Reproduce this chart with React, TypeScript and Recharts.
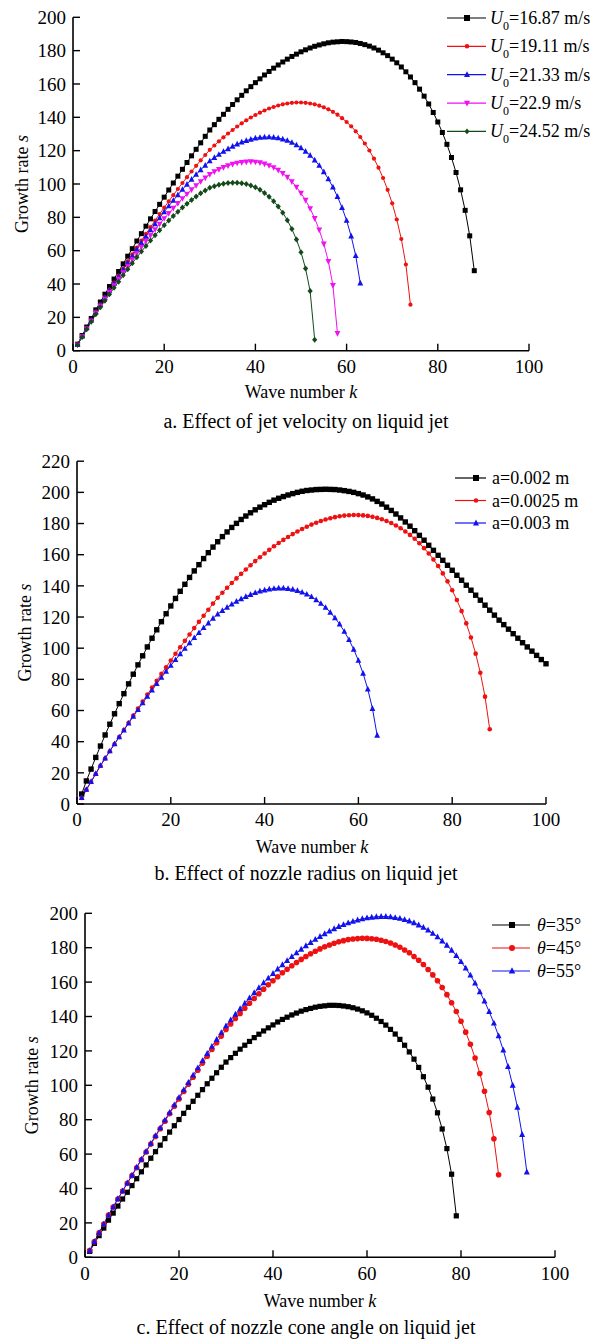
import React from 'react';
import { LineChart, Line, XAxis, YAxis, Legend } from 'recharts';

const FONT = '"Liberation Serif", "Times New Roman", Times, serif';
const PAGE_W = 606;
const Y_W = 60;
const X_H = 30;

// ---------- axis ticks ----------
const kTicks = [0, 20, 40, 60, 80, 100];
const sTicks200 = [0, 20, 40, 60, 80, 100, 120, 140, 160, 180, 200];
const sTicks220 = [0, 20, 40, 60, 80, 100, 120, 140, 160, 180, 200, 220];

// ---------- growth rate s at wave numbers k = 1, 2, 3, ... ----------
// a. jet velocity
const growthU1687 = [
  3.9, 9.1, 14.2, 19.3, 24.5, 29.2, 33.9, 38.5, 43.0, 47.5,
  52.1, 56.7, 61.2, 65.8, 70.2, 74.7, 79.1, 83.5, 87.8, 92.1,
  96.4, 100.6, 104.7, 108.8, 112.9, 116.9, 120.8, 124.7, 128.6, 132.4,
  135.6, 138.8, 141.8, 144.8, 147.7, 150.5, 153.2, 155.9, 158.4, 160.8,
  163.1, 165.4, 167.5, 169.5, 171.4, 173.2, 174.9, 176.5, 177.9, 179.3,
  180.5, 181.6, 182.6, 183.4, 184.1, 184.7, 185.1, 185.3, 185.5, 185.4,
  185.2, 184.9, 184.3, 183.6, 182.7, 181.6, 180.3, 178.7, 177.0, 174.9,
  172.7, 170.2, 167.3, 164.2, 160.8, 156.9, 152.7, 148.0, 142.9, 137.2,
  130.9, 123.8, 115.9, 106.9, 96.5, 84.2, 68.9, 48.0,
];
const growthU1911 = [
  3.7, 8.7, 13.6, 18.4, 23.4, 27.8, 32.2, 36.6, 40.8, 45.0,
  49.3, 53.6, 57.8, 61.9, 66.0, 70.1, 74.1, 78.1, 82.0, 85.8,
  89.6, 93.3, 97.0, 100.6, 104.1, 107.5, 110.9, 114.2, 117.4, 120.5,
  123.1, 125.6, 128.0, 130.3, 132.4, 134.5, 136.4, 138.2, 139.9, 141.4,
  142.8, 144.1, 145.3, 146.2, 147.1, 147.8, 148.3, 148.7, 148.9, 148.9,
  148.7, 148.3, 147.8, 147.0, 146.0, 144.8, 143.3, 141.6, 139.5, 137.2,
  134.6, 131.6, 128.2, 124.3, 120.1, 115.2, 109.8, 103.6, 96.5, 88.4,
  78.7, 67.0, 51.7, 27.6,
];
const growthU2133 = [
  3.7, 8.7, 13.6, 18.3, 23.2, 27.6, 32.0, 36.2, 40.4, 44.5,
  48.6, 52.7, 56.8, 60.8, 64.7, 68.6, 72.4, 76.1, 79.7, 83.3,
  86.8, 90.1, 93.5, 96.7, 99.8, 102.8, 105.7, 108.5, 111.2, 113.8,
  115.8, 117.7, 119.5, 121.1, 122.6, 123.9, 125.1, 126.0, 126.8, 127.5,
  127.9, 128.1, 128.2, 128.0, 127.6, 126.9, 126.1, 124.9, 123.4, 121.7,
  119.6, 117.2, 114.3, 111.1, 107.3, 103.0, 98.1, 92.4, 85.8, 78.1,
  68.7, 57.0, 40.5,
];
const growthU229 = [
  3.6, 8.5, 13.2, 17.8, 22.6, 26.8, 31.0, 35.0, 39.0, 42.9,
  46.9, 50.8, 54.6, 58.4, 62.1, 65.7, 69.2, 72.7, 76.0, 79.3,
  82.4, 85.5, 88.4, 91.3, 94.0, 96.6, 99.1, 101.5, 103.7, 105.8,
  107.4, 108.8, 110.0, 111.0, 111.9, 112.6, 113.0, 113.3, 113.4, 113.2,
  112.8, 112.1, 111.1, 109.9, 108.3, 106.4, 104.1, 101.4, 98.2, 94.5,
  90.3, 85.3, 79.4, 72.5, 64.1, 53.6, 39.2, 10.4,
];
const growthU2452 = [
  3.5, 8.2, 12.8, 17.3, 21.9, 26.0, 30.0, 33.9, 37.7, 41.4,
  45.2, 48.9, 52.5, 56.0, 59.5, 62.8, 66.1, 69.2, 72.3, 75.3,
  78.1, 80.8, 83.4, 85.9, 88.2, 90.4, 92.5, 94.4, 96.1, 97.7,
  98.7, 99.6, 100.2, 100.6, 100.8, 100.8, 100.5, 100.0, 99.1, 98.0,
  96.5, 94.6, 92.4, 89.7, 86.5, 82.8, 78.3, 73.0, 66.7, 59.1,
  49.3, 35.8, 6.6,
];

// b. nozzle radius (a = 0.0025 m is the same base case as U0 = 16.87 m/s)
const growthA002 = [
  6.4, 14.8, 22.4, 29.9, 37.2, 44.3, 51.2, 57.9, 64.4, 70.8,
  77.1, 83.3, 89.3, 95.1, 100.8, 106.4, 111.8, 117.0, 122.1, 127.1,
  131.9, 136.5, 141.0, 145.4, 149.6, 153.6, 157.5, 161.3, 164.9, 168.3,
  171.6, 174.6, 177.5, 180.1, 182.6, 184.8, 186.9, 188.8, 190.5, 192.1,
  193.6, 195.0, 196.2, 197.3, 198.3, 199.2, 200.0, 200.7, 201.2, 201.5,
  201.8, 201.9, 202.0, 201.9, 201.8, 201.5, 201.1, 200.6, 200.0, 199.2,
  198.3, 197.1, 195.8, 194.2, 192.5, 190.5, 188.4, 186.1, 183.6, 181.0,
  178.3, 175.4, 172.4, 169.3, 166.0, 162.8, 159.6, 156.4, 153.2, 150.0,
  146.8, 143.6, 140.4, 137.2, 134.0, 130.8, 127.6, 124.4, 121.2, 118.0,
  115.1, 112.2, 109.3, 106.4, 103.5, 100.8, 98.1, 95.4, 92.7, 90.0,
];
const growthA0025 = growthU1687;
const growthA003 = [
  4.0, 9.3, 14.4, 19.5, 24.7, 29.4, 34.0, 38.6, 43.0, 47.4,
  51.8, 56.2, 60.5, 64.8, 69.0, 73.1, 77.2, 81.2, 85.1, 88.9,
  92.6, 96.3, 99.8, 103.3, 106.7, 109.9, 113.1, 116.1, 119.1, 121.9,
  124.1, 126.2, 128.2, 130.0, 131.6, 133.1, 134.4, 135.6, 136.6, 137.3,
  137.9, 138.3, 138.5, 138.5, 138.2, 137.7, 136.9, 135.9, 134.6, 133.0,
  131.0, 128.7, 126.1, 123.0, 119.4, 115.4, 110.7, 105.4, 99.2, 92.1,
  83.8, 73.7, 61.2, 44.0,
];

// c. nozzle cone angle (theta = 45 deg is the same base case)
const growthT35 = [
  3.4, 8.1, 12.6, 17.0, 21.6, 25.7, 29.8, 33.9, 37.8, 41.7,
  45.7, 49.7, 53.7, 57.6, 61.4, 65.2, 69.0, 72.8, 76.5, 80.1,
  83.7, 87.2, 90.7, 94.2, 97.5, 100.9, 104.1, 107.3, 110.5, 113.5,
  116.1, 118.6, 121.0, 123.3, 125.5, 127.7, 129.7, 131.6, 133.4, 135.1,
  136.8, 138.3, 139.6, 140.9, 142.0, 143.1, 144.0, 144.7, 145.4, 145.9,
  146.2, 146.5, 146.5, 146.4, 146.1, 145.7, 145.1, 144.3, 143.3, 142.1,
  140.7, 139.0, 137.1, 135.0, 132.5, 129.8, 126.7, 123.3, 119.4, 115.2,
  110.4, 105.0, 98.9, 92.0, 84.0, 74.6, 63.2, 48.3, 24.1,
];
const growthT45 = growthU1687;
const growthT55 = [
  3.9, 9.1, 14.3, 19.3, 24.5, 29.3, 34.0, 38.6, 43.2, 47.7,
  52.4, 57.0, 61.6, 66.2, 70.7, 75.2, 79.7, 84.2, 88.6, 93.0,
  97.3, 101.6, 105.9, 110.1, 114.3, 118.5, 122.6, 126.6, 130.6, 134.5,
  138.0, 141.3, 144.5, 147.7, 150.8, 153.8, 156.7, 159.6, 162.3, 165.0,
  167.6, 170.1, 172.5, 174.8, 177.0, 179.1, 181.1, 183.0, 184.8, 186.5,
  188.1, 189.6, 191.0, 192.3, 193.4, 194.4, 195.3, 196.1, 196.8, 197.3,
  197.7, 198.0, 198.1, 198.1, 197.9, 197.5, 197.0, 196.3, 195.5, 194.5,
  193.2, 191.8, 190.2, 188.3, 186.3, 183.9, 181.4, 178.5, 175.4, 171.9,
  168.1, 164.0, 159.4, 154.4, 148.9, 142.8, 136.1, 128.7, 120.4, 110.9,
  100.0, 87.2, 71.4, 49.6,
];

// ---------- legend labels ----------
const labelsU = ['16.87', '19.11', '21.33', '22.9', '24.52'];
const labelsA = ['a=0.002 m', 'a=0.0025 m', 'a=0.003 m'];
const labelsT = ['35°', '45°', '55°'];

type Series = {
  key: string;
  values: number[];
  color: string;
  shape: string;
  size: number;
  legendSize: number;
  label: { italic?: string; sub?: string; rest: string };
};

const seriesA: Series[] = [
  { key: 'u1', values: growthU1687, color: '#000000', shape: 'square', size: 5, legendSize: 6, label: { italic: 'U', sub: '0', rest: `=${labelsU[0]} m/s` } },
  { key: 'u2', values: growthU1911, color: '#ee1111', shape: 'circle', size: 4.2, legendSize: 4.5, label: { italic: 'U', sub: '0', rest: `=${labelsU[1]} m/s` } },
  { key: 'u3', values: growthU2133, color: '#1212ee', shape: 'triUp', size: 5.8, legendSize: 6, label: { italic: 'U', sub: '0', rest: `=${labelsU[2]} m/s` } },
  { key: 'u4', values: growthU229, color: '#f010f0', shape: 'triDown', size: 5.8, legendSize: 6, label: { italic: 'U', sub: '0', rest: `=${labelsU[3]} m/s` } },
  { key: 'u5', values: growthU2452, color: '#124a1a', shape: 'diamond', size: 5.2, legendSize: 5, label: { italic: 'U', sub: '0', rest: `=${labelsU[4]} m/s` } },
];

const seriesB: Series[] = [
  { key: 'a1', values: growthA002, color: '#000000', shape: 'square', size: 5.4, legendSize: 6, label: { rest: labelsA[0] } },
  { key: 'a2', values: growthA0025, color: '#ee1111', shape: 'circle', size: 4.6, legendSize: 4.5, label: { rest: labelsA[1] } },
  { key: 'a3', values: growthA003, color: '#1212ee', shape: 'triUp', size: 5.8, legendSize: 6, label: { rest: labelsA[2] } },
];

const seriesC: Series[] = [
  { key: 't1', values: growthT35, color: '#000000', shape: 'square', size: 5.2, legendSize: 6, label: { italic: 'θ', rest: `=${labelsT[0]}` } },
  { key: 't2', values: growthT45, color: '#ee1111', shape: 'circle', size: 5.6, legendSize: 6, label: { italic: 'θ', rest: `=${labelsT[1]}` } },
  { key: 't3', values: growthT55, color: '#1212ee', shape: 'triUp', size: 6, legendSize: 6.5, label: { italic: 'θ', rest: `=${labelsT[2]}` } },
];

function buildRows(series: Series[]) {
  const n = Math.max(...series.map((s) => s.values.length));
  const rows: any[] = [];
  for (let i = 0; i < n; i++) {
    const row: any = { k: i + 1 };
    series.forEach((s) => {
      row[s.key] = i < s.values.length ? s.values[i] : null;
    });
    rows.push(row);
  }
  return rows;
}

function markerShape(shape: string, cx: number, cy: number, size: number, color: string, key?: string) {
  const h = size / 2;
  switch (shape) {
    case 'square':
      return <rect key={key} x={cx - h} y={cy - h} width={size} height={size} fill={color} />;
    case 'circle':
      return <circle key={key} cx={cx} cy={cy} r={h} fill={color} />;
    case 'triUp':
      return <polygon key={key} points={`${cx},${cy - h * 1.15} ${cx + h},${cy + h * 0.8} ${cx - h},${cy + h * 0.8}`} fill={color} />;
    case 'triDown':
      return <polygon key={key} points={`${cx},${cy + h * 1.15} ${cx + h},${cy - h * 0.8} ${cx - h},${cy - h * 0.8}`} fill={color} />;
    default:
      return <polygon key={key} points={`${cx},${cy - h * 1.15} ${cx + h},${cy} ${cx},${cy + h * 1.15} ${cx - h},${cy}`} fill={color} />;
  }
}

function LabelText({ s, x, y }: { s: Series; x: number; y: number }) {
  const l = s.label;
  return (
    <text x={x} y={y} fontSize={18} fontFamily={FONT} fill="#000">
      {l.italic ? <tspan fontStyle="italic">{l.italic}</tspan> : null}
      {l.sub ? (
        <tspan fontSize={12} dy={6}>
          {l.sub}
        </tspan>
      ) : null}
      <tspan dy={l.sub ? -6 : 0}>{l.rest}</tspan>
    </text>
  );
}

function YTitle(props: any) {
  const { tx, ty } = props;
  return (
    <text
      x={tx}
      y={ty}
      transform={`rotate(-90 ${tx} ${ty})`}
      textAnchor="middle"
      dominantBaseline="central"
      fontSize={18}
      fontFamily={FONT}
      fill="#000"
    >
      Growth rate <tspan fontStyle="italic">s</tspan>
    </text>
  );
}

function XTitle(props: any) {
  const { tx, ty } = props;
  return (
    <text x={tx} y={ty} textAnchor="middle" dominantBaseline="central" fontSize={18} fontFamily={FONT} fill="#000">
      Wave number <tspan fontStyle="italic">k</tspan>
    </text>
  );
}

type PanelProps = {
  top: number;
  height: number;
  plot: { left: number; right: number; top: number; bottom: number };
  yMax: number;
  yTicks: number[];
  series: Series[];
  legend: { left: number; firstRow: number; gap: number; x1: number; x2: number; mark: number; text: number };
  yTitle: { x: number; y: number };
  xTitle: { x: number; y: number };
  caption: { text: string; y: number };
};

function Panel(p: PanelProps) {
  const rows = buildRows(p.series);
  const margin = {
    top: p.plot.top - p.top,
    left: p.plot.left - Y_W,
    right: PAGE_W - p.plot.right,
    bottom: p.top + p.height - p.plot.bottom - X_H,
  };
  const lg = p.legend;
  const legTop = lg.firstRow - p.top - 14;
  const legW = PAGE_W - lg.left;
  const legH = lg.gap * (p.series.length - 1) + 32;
  const legendContent = () => (
    <svg width={legW} height={legH} style={{ overflow: 'visible', display: 'block' }}>
      {p.series.map((s, i) => {
        const y = 14 + i * lg.gap;
        return (
          <g key={s.key}>
            <line x1={lg.x1 - lg.left} x2={lg.x2 - lg.left} y1={y} y2={y} stroke={s.color} strokeWidth={1.2} />
            {markerShape(s.shape, lg.mark - lg.left, y, s.legendSize, s.color)}
            <LabelText s={s} x={lg.text - lg.left} y={y + 6} />
          </g>
        );
      })}
    </svg>
  );
  const axisLine = { stroke: '#000', strokeWidth: 1.6 };
  const tickLine = { stroke: '#000', strokeWidth: 1.4 };
  const tickStyle = { fill: '#000', fontSize: 19, fontFamily: FONT };
  return (
    <div style={{ position: 'absolute', left: 0, top: p.top, width: PAGE_W, height: p.height }}>
      <LineChart width={PAGE_W} height={p.height} data={rows} margin={margin}>
        <XAxis
          type="number"
          dataKey="k"
          domain={[0, 100]}
          ticks={kTicks}
          interval={0}
          height={X_H}
          tickSize={-7}
          tickMargin={16}
          axisLine={axisLine}
          tickLine={tickLine}
          tick={tickStyle}
          label={<XTitle tx={p.xTitle.x} ty={p.xTitle.y - p.top} />}
        />
        <YAxis
          type="number"
          domain={[0, p.yMax]}
          ticks={p.yTicks}
          interval={0}
          width={Y_W}
          tickSize={-7}
          tickMargin={14}
          axisLine={axisLine}
          tickLine={tickLine}
          tick={tickStyle}
          label={<YTitle tx={p.yTitle.x} ty={p.yTitle.y - p.top} />}
        />
        <Legend
          layout="vertical"
          align="center"
          verticalAlign="middle"
          content={legendContent}
          wrapperStyle={{ left: lg.left, top: legTop, width: legW, height: legH }}
        />
        {p.series.map((s) => (
          <Line
            key={s.key}
            type="linear"
            dataKey={s.key}
            stroke={s.color}
            strokeWidth={1}
            isAnimationActive={false}
            connectNulls={false}
            activeDot={false}
            dot={(d: any) => {
              const key = `${s.key}-${d.index}`;
              if (d.cx == null || d.cy == null || d.value == null) return <g key={key} />;
              return markerShape(s.shape, d.cx, d.cy, s.size, s.color, key);
            }}
          />
        ))}
      </LineChart>
      <div
        style={{
          position: 'absolute',
          left: 0,
          width: 612,
          top: p.caption.y - p.top - 12,
          lineHeight: '24px',
          textAlign: 'center',
          fontFamily: FONT,
          fontSize: 20,
          color: '#000',
          whiteSpace: 'nowrap',
        }}
      >
        {p.caption.text}
      </div>
    </div>
  );
}

export default function App() {
  return (
    <div style={{ position: 'absolute', left: 0, top: 0, width: PAGE_W, height: 1340, background: '#fff' }}>
      <Panel
        top={0}
        height={440}
        plot={{ left: 73, right: 529, top: 17.3, bottom: 350.7 }}
        yMax={200}
        yTicks={sTicks200}
        series={seriesA}
        legend={{ left: 440, firstRow: 18.3, gap: 28.35, x1: 447, x2: 486, mark: 467, text: 490 }}
        yTitle={{ x: 22, y: 184 }}
        xTitle={{ x: 301, y: 391.7 }}
        caption={{ text: 'a. Effect of jet velocity on liquid jet', y: 420.7 }}
      />
      <Panel
        top={440}
        height={450}
        plot={{ left: 77, right: 546, top: 461.2, bottom: 804 }}
        yMax={220}
        yTicks={sTicks220}
        series={seriesB}
        legend={{ left: 448, firstRow: 478.3, gap: 22.5, x1: 455, x2: 486, mark: 476, text: 492 }}
        yTitle={{ x: 25, y: 632.6 }}
        xTitle={{ x: 312, y: 847.3 }}
        caption={{ text: 'b. Effect of nozzle radius on liquid jet', y: 873.3 }}
      />
      <Panel
        top={890}
        height={450}
        plot={{ left: 85, right: 555, top: 913.3, bottom: 1257.3 }}
        yMax={200}
        yTicks={sTicks200}
        series={seriesC}
        legend={{ left: 485, firstRow: 925, gap: 23, x1: 492, x2: 530, mark: 512, text: 537 }}
        yTitle={{ x: 32, y: 1085.3 }}
        xTitle={{ x: 320, y: 1300.7 }}
        caption={{ text: 'c. Effect of nozzle cone angle on liquid jet', y: 1326.7 }}
      />
    </div>
  );
}
